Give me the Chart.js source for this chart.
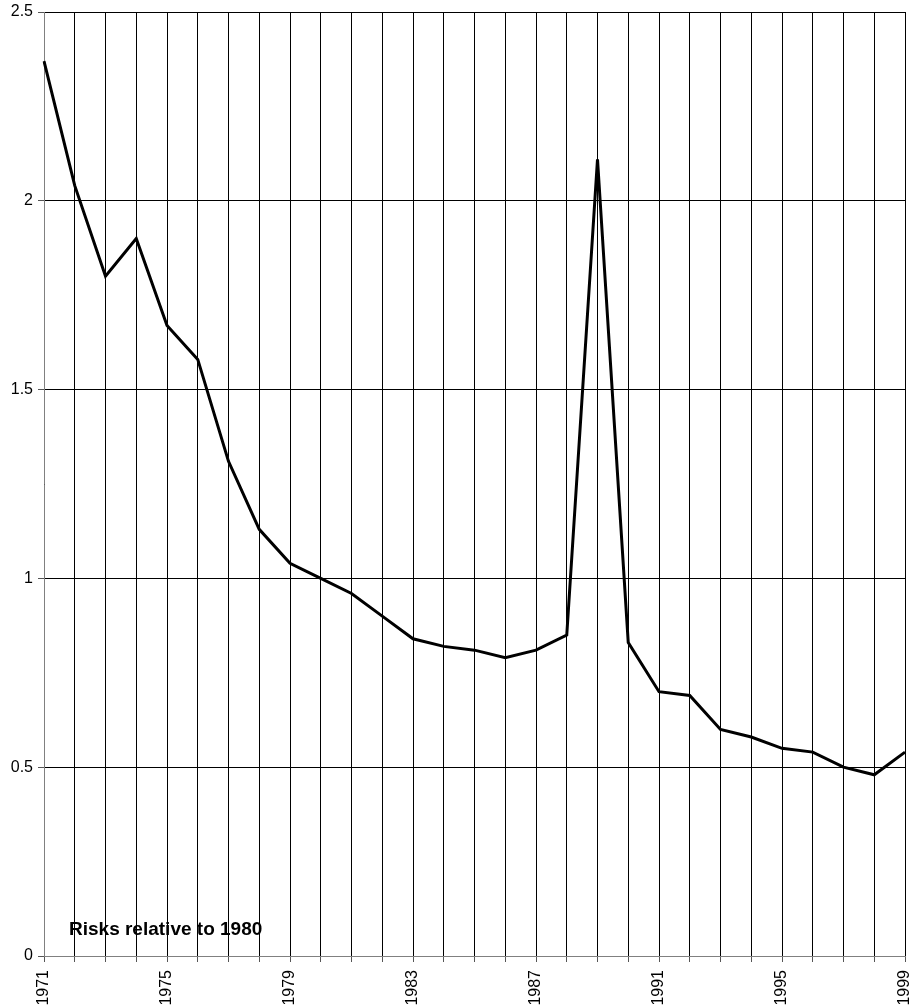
<!DOCTYPE html>
<html>
<head>
<meta charset="utf-8">
<script src="https://cdn.jsdelivr.net/npm/chart.js@4.4.0/dist/chart.umd.min.js"></script>
<style>
  html, body { margin: 0; padding: 0; background: #fff; }
  #wrap { width: 917px; height: 1007px; position: relative; }
</style>
</head>
<body>
<div id="wrap"><canvas id="riskChart"></canvas></div>
<script>
// Data
const years = [1971, 1972, 1973, 1974, 1975, 1976, 1977, 1978, 1979, 1980,
    1981, 1982, 1983, 1984, 1985, 1986, 1987, 1988, 1989, 1990,
    1991, 1992, 1993, 1994, 1995, 1996, 1997, 1998, 1999];
const relativeRisk = [2.37, 2.04, 1.80, 1.90, 1.67, 1.58, 1.31, 1.13, 1.04, 1.00,
    0.96, 0.90, 0.84, 0.82, 0.81, 0.79, 0.81, 0.85, 2.11, 0.83,
    0.70, 0.69, 0.60, 0.58, 0.55, 0.54, 0.50, 0.48, 0.54];
const labelledYears = [1971, 1975, 1979, 1983, 1987, 1991, 1995, 1999];
const noteText = 'Risks relative to 1980';

// Note inside the plot area
const notePlugin = {
    id: 'note',
    afterDatasetsDraw(chart) {
        const { ctx, chartArea } = chart;
        ctx.save();
        ctx.font = 'bold 19px "Liberation Sans", Arial, sans-serif';
        ctx.fillStyle = '#000';
        ctx.textBaseline = 'middle';
        ctx.fillText(noteText, chartArea.left + 25, chartArea.bottom - 26);
        ctx.restore();
    }
};

Chart.defaults.font.family = '"Liberation Sans", Arial, sans-serif';
Chart.defaults.color = '#000';

new Chart(document.getElementById('riskChart'), {
    type: 'line',
    data: {
        labels: years,
        datasets: [{
            data: relativeRisk,
            borderColor: '#000',
            borderWidth: 3,
            pointRadius: 0,
            tension: 0
        }]
    },
    options: {
        responsive: true,
        maintainAspectRatio: false,
        animation: false,
        layout: { padding: { top: 12, right: 12, left: 0, bottom: 0 } },
        plugins: {
            legend: { display: false },
            tooltip: { enabled: false }
        },
        scales: {
            x: {
                grid: { color: '#000', lineWidth: 1, tickLength: 6, tickColor: '#555' },
                border: { color: '#808080', width: 1 },
                ticks: {
                    autoSkip: false,
                    minRotation: 90,
                    maxRotation: 90,
                    padding: 8,
                    font: { size: 16 },
                    callback: function (value, index) {
                        const yr = years[index];
                        return labelledYears.includes(yr) ? String(yr) : '';
                    }
                },
                afterFit: function (scale) {
                    scale.height = 51;
                    scale.paddingLeft = 0;
                    scale.paddingRight = 0;
                }
            },
            y: {
                min: 0,
                max: 2.5,
                grid: { color: '#000', lineWidth: 1, tickLength: 6, tickColor: '#555' },
                border: { color: '#808080', width: 1 },
                ticks: {
                    stepSize: 0.5,
                    padding: 5,
                    font: { size: 16 },
                    callback: function (value) { return String(+value.toFixed(1)); }
                },
                afterFit: function (scale) {
                    scale.width = 44;
                    scale.paddingTop = 0;
                    scale.paddingBottom = 0;
                }
            }
        }
    },
    plugins: [notePlugin]
});
</script>
</body>
</html>
